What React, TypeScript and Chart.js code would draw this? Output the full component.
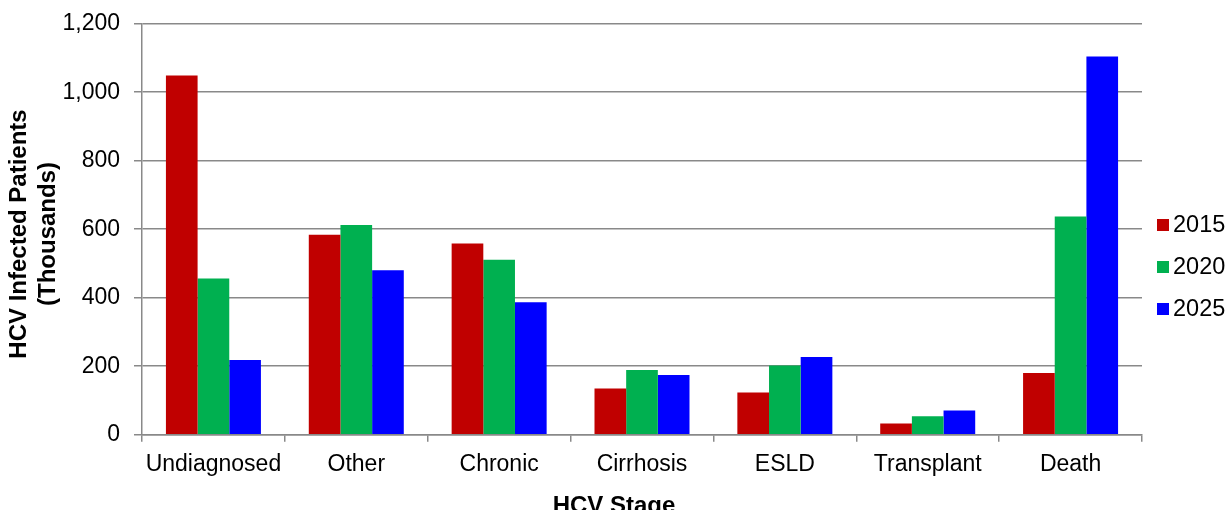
import React, { useEffect, useRef } from "react";
import { Chart, registerables } from "chart.js";

Chart.register(...registerables);

const categories = ["Undiagnosed", "Other", "Chronic", "Cirrhosis", "ESLD", "Transplant", "Death"];
const series2015 = [1049, 584, 558, 135, 123, 33, 180];
const series2020 = [456, 612, 511, 189, 202, 54, 637];
const series2025 = [218, 480, 387, 174, 227, 71, 1104];
const seriesLabels = ["2015", "2020", "2025"];
const seriesColors = ["#C00000", "#00B050", "#0000FF"];
const yTicks = [0, 200, 400, 600, 800, 1000, 1200];
const xTitle = "HCV Stage";
const yTitle = ["HCV Infected Patients", "(Thousands)"];

const FONT = '"Liberation Sans", Arial, sans-serif';
const GRID = "#898989";

const annotations = {
  id: "annotations",
  afterDraw(chart: any) {
    const ctx = chart.ctx;
    const x0 = chart.chartArea.right + 15;
    const midY = chart.height / 2 + 12;
    ctx.save();
    // legend
    ctx.font = `23.5px ${FONT}`;
    ctx.textBaseline = "middle";
    ctx.textAlign = "left";
    chart.data.datasets.forEach((ds: any, i: number) => {
      const cy = midY + (i - 1) * 42;
      ctx.fillStyle = ds.backgroundColor;
      ctx.fillRect(x0, cy - 6, 12, 12);
      ctx.fillStyle = "#000";
      ctx.fillText(ds.label, x0 + 16, cy + 1);
    });
    // x axis title, centred on the whole chart width
    ctx.font = `bold 24px ${FONT}`;
    ctx.textAlign = "center";
    ctx.textBaseline = "alphabetic";
    ctx.fillText(xTitle, chart.width / 2, 512.5);
    // y axis title (two lines, rotated)
    ctx.translate(0, 234);
    ctx.rotate(-Math.PI / 2);
    ctx.textBaseline = "middle";
    yTitle.forEach((line, i) => {
      ctx.fillText(line, 0, 19 + i * 29);
    });
    ctx.restore();
  },
};

export default function App() {
  const ref = useRef<HTMLCanvasElement | null>(null);

  useEffect(() => {
    if (!ref.current) return;
    const data = [series2015, series2020, series2025];
    const chart = new Chart(ref.current, {
      type: "bar",
      data: {
        labels: categories,
        datasets: data.map((d, i) => ({
          label: seriesLabels[i],
          data: d,
          backgroundColor: seriesColors[i],
          borderWidth: 0,
          categoryPercentage: 0.665,
          barPercentage: 1,
        })),
      },
      options: {
        animation: false,
        responsive: true,
        maintainAspectRatio: false,
        layout: { padding: { top: 23.7, right: 86, left: 0, bottom: 0 } },
        plugins: {
          legend: { display: false },
          tooltip: { enabled: false },
        },
        scales: {
          x: {
            grid: {
              display: true,
              drawOnChartArea: false,
              drawTicks: true,
              tickLength: 7,
              color: GRID,
              lineWidth: 1.5,
              offset: true,
            },
            border: { display: true, color: GRID, width: 1.5 },
            ticks: {
              color: "#000",
              font: { family: FONT, size: 23 },
              padding: 9,
              maxRotation: 0,
              autoSkip: false,
            },
            title: { display: false },
            afterFit(scale: any) {
              scale.height = 75.3;
              scale.paddingLeft = 0;
              scale.paddingRight = 0;
            },
          },
          y: {
            min: 0,
            max: 1200,
            afterBuildTicks(scale: any) {
              scale.ticks = yTicks.map((v) => ({ value: v }));
            },
            grid: {
              color: GRID,
              lineWidth: 1.5,
              tickLength: 8,
              drawTicks: true,
            },
            border: { display: true, color: GRID, width: 1.5 },
            ticks: {
              color: "#000",
              font: { family: FONT, size: 23 },
              padding: 14,
              callback: (v: any) => Number(v).toLocaleString("en-US"),
            },
            title: { display: false },
            afterFit(scale: any) {
              scale.width = 142;
              scale.paddingTop = 0;
              scale.paddingBottom = 0;
            },
          },
        },
      },
      plugins: [annotations],
    });
    return () => chart.destroy();
  }, []);

  return (
    <div style={{ position: "absolute", left: 0, top: 0, width: 1228, height: 510 }}>
      <canvas ref={ref} />
    </div>
  );
}
